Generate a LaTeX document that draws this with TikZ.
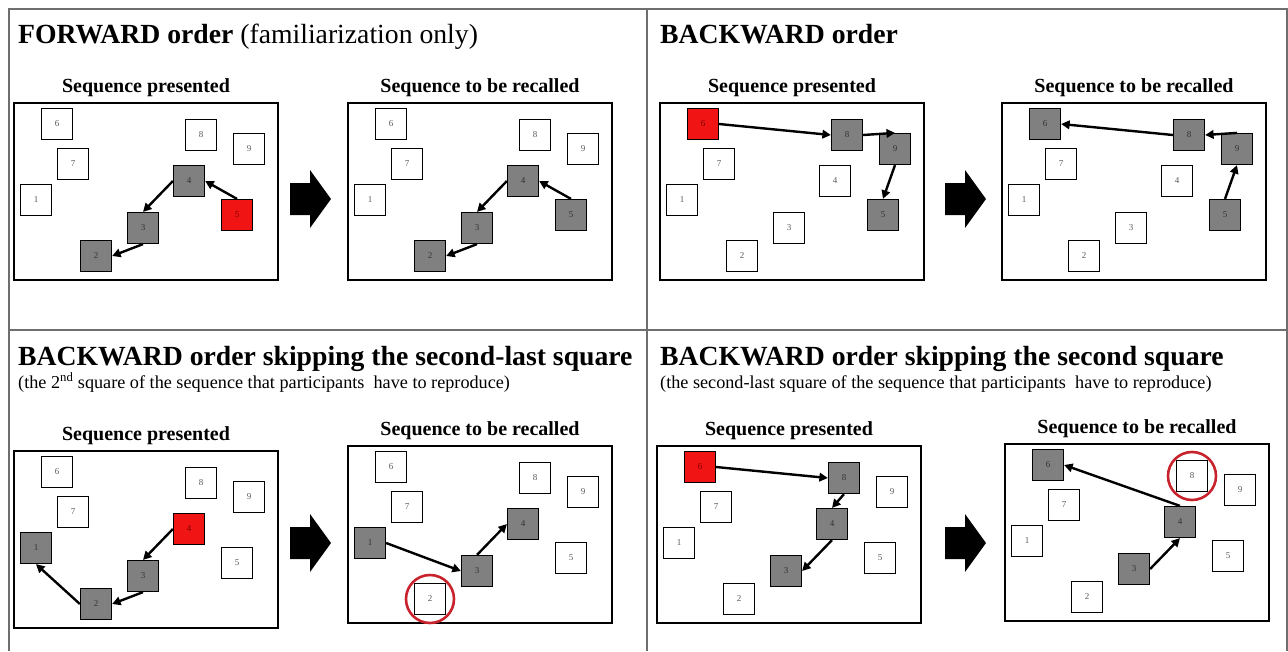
\documentclass[tikz,border=0pt]{standalone}
\usepackage{fontspec}
\setmainfont{Liberation Serif}
\usetikzlibrary{arrows.meta}
\definecolor{seqgray}{RGB}{128,128,128}
\definecolor{seqred}{RGB}{240,20,20}
\definecolor{ringred}{RGB}{200,35,45}
\definecolor{framegray}{RGB}{110,110,110}
\tikzset{
  frame line/.style={line width=2pt, framegray},
  stage box/.style={draw=black, line width=1.4pt},
  square/.style={draw=black, line width=1.2pt, fill=white, minimum size=31pt, inner sep=0pt, font=\fontsize{9}{9}\selectfont, text=black!65},
  gray square/.style={fill=seqgray, text=black!80},
  red square/.style={fill=seqred, text=red!50!black},
  seq arrow/.style={line width=2.4pt, -{Triangle[length=8.5pt, width=8.5pt]}},
  ring/.style={draw=ringred, line width=2.6pt, circle, minimum size=48pt, inner sep=0pt},
  stage label/.style={font=\fontsize{20}{20}\selectfont\bfseries},
  panel title/.style={font=\fontsize{27.7}{28}\selectfont, anchor=base west, inner sep=0pt},
  panel note/.style={font=\fontsize{18.2}{19}\selectfont, anchor=base west, inner sep=0pt},
}
% one stage: box, label and nine squares (#1 prefix, #2 top-left, #3 label, #4 square styles)
\newcommand{\drawStage}[4]{
  \begin{scope}[shift={#2}, s1/.style={}, s2/.style={}, s3/.style={}, s4/.style={}, s5/.style={},
      s6/.style={}, s7/.style={}, s8/.style={}, s9/.style={}, #4]
    \draw[stage box] (0,0) rectangle (264,177);
    \node[stage label] (#1lbl) at (132,-15) {#3};
    \foreach \n/\x/\y in {1/22/97, 2/82/153, 3/129/125, 4/175/78, 5/223/112, 6/43/21, 7/59/61, 8/187/32, 9/235/46}
      \node[square, s\n] (#1\n) at (\x,\y) {\n};
  \end{scope}
}
% big black arrow between two stages
\newcommand{\drawBigArrow}[1]{
  \fill[black, shift={#1}] (0,-16) -- (20,-16) -- (20,-29) -- (41,0) -- (20,29) -- (20,16) -- (0,16) -- cycle;
}

\begin{document}
\begin{tikzpicture}[x=1pt, y=-1pt]
  \useasboundingbox (0,0) rectangle (1288,651);
  % panel frame
  \draw[frame line] (9,651) -- (9,9) -- (1287,9) -- (1287,651);
  \draw[frame line] (647,9) -- (647,651);
  \draw[frame line] (9,330) -- (1287,330);

  % forward order
  \node[panel title] (fwdtitle) at (18,43) {\textbf{FORWARD order} (familiarization only)};
  \drawStage{fp}{(14,103)}{Sequence presented}{s2/.style={gray square}, s3/.style={gray square}, s4/.style={gray square}, s5/.style={red square}}
  \drawBigArrow{(290,199)}
  \drawStage{fr}{(348,103)}{Sequence to be recalled}{s2/.style={gray square}, s3/.style={gray square}, s4/.style={gray square}, s5/.style={gray square}}
  \draw[seq arrow] (fp5.north) -- (fp4.east);
  \draw[seq arrow] (fp4.west) -- (fp3.north);
  \draw[seq arrow] (fp3.south) -- (fp2.east);
  \draw[seq arrow] (fr5.north) -- (fr4.east);
  \draw[seq arrow] (fr4.west) -- (fr3.north);
  \draw[seq arrow] (fr3.south) -- (fr2.east);

  % backward order
  \node[panel title] (bwdtitle) at (660,43) {\textbf{BACKWARD order}};
  \drawStage{bp}{(660,103)}{Sequence presented}{s6/.style={red square}, s8/.style={gray square}, s9/.style={gray square}, s5/.style={gray square}}
  \drawBigArrow{(945,199)}
  \drawStage{br}{(1002,103)}{Sequence to be recalled}{s6/.style={gray square}, s8/.style={gray square}, s9/.style={gray square}, s5/.style={gray square}}
  \draw[seq arrow] (bp6.east) -- (bp8.west);
  \draw[seq arrow] (bp8.east) -- (bp9.north);
  \draw[seq arrow] (bp9.south) -- (bp5.north);
  \draw[seq arrow] (br5.north) -- (br9.south);
  \draw[seq arrow] (br9.north) -- (br8.east);
  \draw[seq arrow] (br8.west) -- (br6.east);

  % backward order skipping the second-last square
  \node[panel title] (sltitle) at (18,365) {\textbf{BACKWARD order skipping the second-last square}};
  \node[panel note] (slnote) at (18,388) {(the 2\textsuperscript{nd} square of the sequence that participants\ \ have to reproduce)};
  \drawStage{sp}{(14,451)}{Sequence presented}{s4/.style={red square}, s3/.style={gray square}, s2/.style={gray square}, s1/.style={gray square}}
  \drawBigArrow{(290,543)}
  \drawStage{sr}{(348,446)}{Sequence to be recalled}{s1/.style={gray square}, s3/.style={gray square}, s4/.style={gray square}}
  \draw[seq arrow] (sp4.west) -- (sp3.north);
  \draw[seq arrow] (sp3.south) -- (sp2.east);
  \draw[seq arrow] (sp2.west) -- (sp1.south);
  \draw[seq arrow] (sr1.east) -- (sr3.west);
  \draw[seq arrow] (sr3.north) -- (sr4.west);
  \node[ring] (srring) at (sr2) {};

  % backward order skipping the second square
  \node[panel title] (sstitle) at (660,365) {\textbf{BACKWARD order skipping the second square}};
  \node[panel note] (ssnote) at (660,388) {(the second-last square of the sequence that participants\ \ have to reproduce)};
  \drawStage{qp}{(657,446)}{Sequence presented}{s6/.style={red square}, s8/.style={gray square}, s4/.style={gray square}, s3/.style={gray square}}
  \drawBigArrow{(945,543)}
  \drawStage{qr}{(1005,444)}{Sequence to be recalled}{s3/.style={gray square}, s4/.style={gray square}, s6/.style={gray square}}
  \draw[seq arrow] (qp6.east) -- (qp8.west);
  \draw[seq arrow] (qp8.south) -- (qp4.north);
  \draw[seq arrow] (qp4.south) -- (qp3.east);
  \draw[seq arrow] (qr3.east) -- (qr4.south);
  \draw[seq arrow] (qr4.north) -- (qr6.east);
  \node[ring] (qrring) at (qr8) {};
\end{tikzpicture}
\end{document}
